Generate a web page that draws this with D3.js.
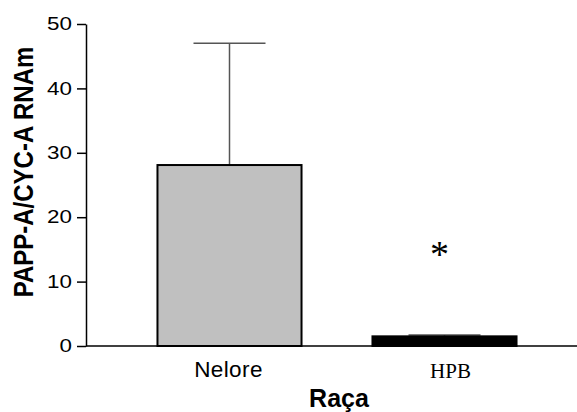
<!DOCTYPE html>
<html>
<head>
<meta charset="utf-8">
<script src="https://cdn.jsdelivr.net/npm/d3@7"></script>
<style>
  body { margin: 0; background: #fff; }
  svg { display: block; }
</style>
</head>
<body>
<div id="chart"></div>
<script>
const categories = ['Nelore', 'HPB'];
const means = [28.1, 1.5];
const errors = [18.9, 0.2];
const barColors = ['#c0c0c0', '#000000'];
const yTicks = [0, 10, 20, 30, 40, 50];
const starValue = 14.8; // significance mark above HPB

const width = 577, height = 412;
const sans = 'Liberation Sans, Arial, sans-serif';
const serif = 'Liberation Serif, Times New Roman, serif';

const svg = d3.select('#chart').append('svg')
  .attr('width', width)
  .attr('height', height);

const y = d3.scaleLinear().domain([0, 50]).range([346, 24]);
const x = d3.scaleBand().domain(categories).range([122, 552])
  .paddingInner(0.33).paddingOuter(0.165);

// error bars (drawn first so the bar covers the lower part)
const err = svg.append('g').attr('stroke', '#555').attr('stroke-width', 1.5);
categories.forEach((c, i) => {
  const cx = x(c) + x.bandwidth() / 2;
  const top = y(means[i] + errors[i]);
  err.append('line')
    .attr('x1', cx).attr('x2', cx)
    .attr('y1', y(means[i])).attr('y2', top);
  err.append('line')
    .attr('x1', cx - 36).attr('x2', cx + 36)
    .attr('y1', top).attr('y2', top);
});

// bars
svg.append('g').selectAll('rect')
  .data(categories)
  .join('rect')
  .attr('x', d => x(d))
  .attr('y', (d, i) => y(means[i]))
  .attr('width', x.bandwidth())
  .attr('height', (d, i) => y(0) - y(means[i]))
  .attr('fill', (d, i) => barColors[i])
  .attr('stroke', '#000')
  .attr('stroke-width', 2);

// y axis
const yAxis = svg.append('g')
  .attr('transform', 'translate(86,0)')
  .call(d3.axisLeft(y).tickValues(yTicks).tickSize(9).tickSizeOuter(0));
yAxis.select('.domain').attr('stroke', '#000').attr('stroke-width', 1.5);
yAxis.selectAll('.tick line').attr('stroke', '#000').attr('stroke-width', 1.5);
// tick labels in the original are drawn wide
yAxis.selectAll('.tick text')
  .attr('x', 0)
  .attr('transform', 'translate(-14,0) scale(1.28,1)')
  .attr('font-family', sans)
  .attr('font-size', 17.5)
  .attr('fill', '#000');

// x axis baseline
svg.append('line')
  .attr('x1', 86).attr('x2', width)
  .attr('y1', y(0)).attr('y2', y(0))
  .attr('stroke', '#000').attr('stroke-width', 1.5);

// category labels
const cx = d => x(d) + x.bandwidth() / 2;
svg.append('text')
  .attr('x', cx('Nelore') - 1).attr('y', 376.5)
  .attr('text-anchor', 'middle')
  .attr('font-family', sans)
  .attr('font-size', 22.5)
  .attr('letter-spacing', 0.4)
  .text('Nelore');
svg.append('text')
  .attr('x', cx('HPB') + 6).attr('y', 378)
  .attr('text-anchor', 'middle')
  .attr('font-family', serif)
  .attr('font-size', 21)
  .text('HPB');

// significance asterisk
svg.append('text')
  .attr('x', cx('HPB') - 5)
  .attr('y', y(starValue) + 16)
  .attr('text-anchor', 'middle')
  .attr('font-family', serif)
  .attr('font-size', 38)
  .text('*');

// axis titles
svg.append('text')
  .attr('x', 339).attr('y', 407)
  .attr('text-anchor', 'middle')
  .attr('font-family', sans)
  .attr('font-weight', 'bold')
  .attr('font-size', 25)
  .text('Raça');

svg.append('text')
  .attr('transform', 'translate(33,172) rotate(-90) scale(1,1.15)')
  .attr('text-anchor', 'middle')
  .attr('font-family', sans)
  .attr('font-weight', 'bold')
  .attr('font-size', 24)
  .text('PAPP-A/CYC-A RNAm');
</script>
</body>
</html>
